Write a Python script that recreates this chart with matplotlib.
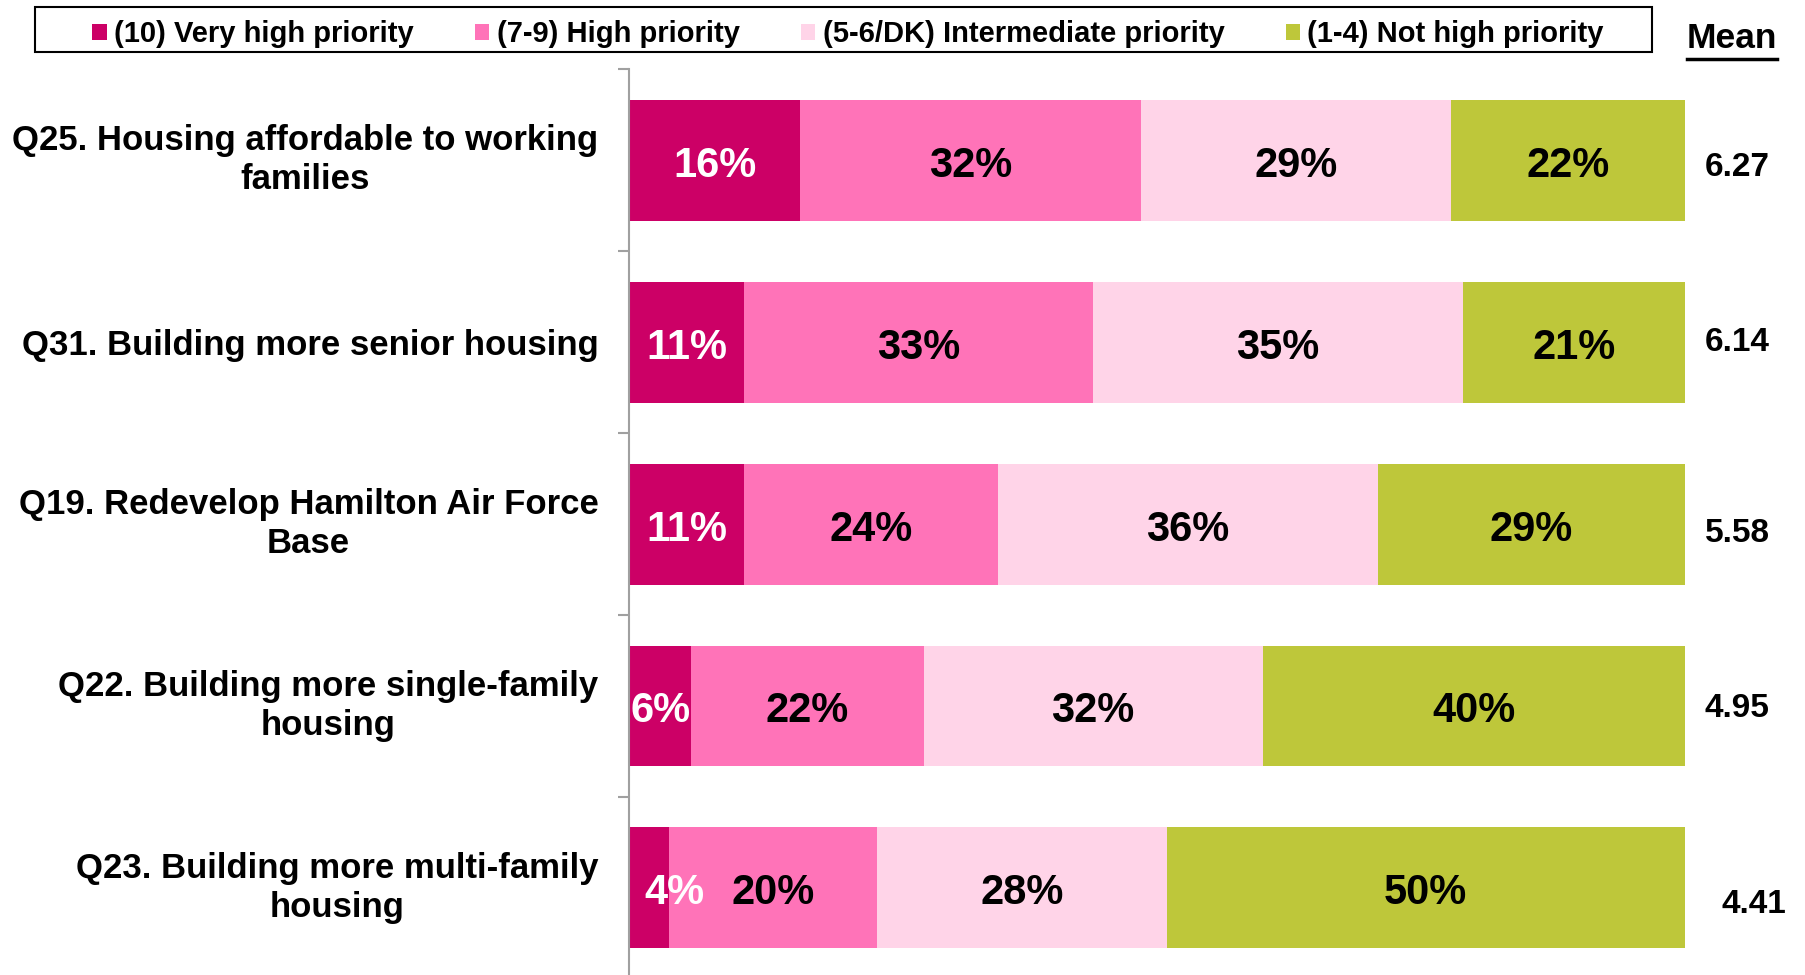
import matplotlib
matplotlib.use('Agg')
import matplotlib.pyplot as plt
from matplotlib.lines import Line2D
from matplotlib.patches import Rectangle

plt.rcParams['font.family'] = ['Liberation Sans', 'DejaVu Sans']
plt.rcParams['font.weight'] = 'bold'

# data
questions = [
    'Q25. Housing affordable to working\nfamilies',
    'Q31. Building more senior housing',
    'Q19. Redevelop Hamilton Air Force\nBase',
    'Q22. Building more single-family\nhousing',
    'Q23. Building more multi-family\nhousing',
]
series_names = ['(10) Very high priority', '(7-9) High priority',
                '(5-6/DK) Intermediate priority', '(1-4) Not high priority']
very_high = [16.2, 10.9, 10.9, 5.9, 3.8]
high = [32.3, 33.0, 24.0, 22.0, 19.7]
intermediate = [29.3, 35.1, 36.0, 32.1, 27.4]
not_high = [22.2, 21.0, 29.1, 40.0, 49.1]
# percentages as printed on the bars
very_high_lbl = [16, 11, 11, 6, 4]
high_lbl = [32, 33, 24, 22, 20]
intermediate_lbl = [29, 35, 36, 32, 28]
not_high_lbl = [22, 21, 29, 40, 50]
means = [6.27, 6.14, 5.58, 4.95, 4.41]

colors = ['#CC0066', '#FF73B8', '#FFD4E8', '#BEC73A']
text_colors = ['white', 'black', 'black', 'black']

fig = plt.figure(figsize=(18.06, 9.75), dpi=100)
ax = fig.add_axes([0.3483, -0.004, 0.5847, 0.933])

ypos = list(range(len(questions)))
series = [very_high, high, intermediate, not_high]
labels = [very_high_lbl, high_lbl, intermediate_lbl, not_high_lbl]
left = [0.0] * len(questions)
for vals, lbls, name, c, tc in zip(series, labels, series_names, colors, text_colors):
    ax.barh(ypos, vals, left=left, height=0.665, color=c, label=name)
    for i, (v, l) in enumerate(zip(vals, lbls)):
        if v < 5:
            ax.text(left[i] + 1.5, i + 0.03, f'{l}%', ha='left', va='center',
                    fontsize=30, color=tc)
        else:
            ax.text(left[i] + v / 2, i + 0.03, f'{l}%', ha='center', va='center',
                    fontsize=30, color=tc)
    left = [a + b for a, b in zip(left, vals)]

ax.set_xlim(0, 100)
ax.set_ylim(4.5, -0.5)
ax.set_xticks([])
ax.set_yticks(ypos)
ax.set_yticklabels(questions, fontsize=25)
for t in ax.get_yticklabels():
    t.set_multialignment('center')
    t.set_linespacing(1.25)
    if '\n' in t.get_text():
        t.set_verticalalignment('center')
ax.tick_params(axis='y', which='major', length=0, pad=22)
ax.set_yticks([k - 0.5 for k in range(6)], minor=True)
ax.tick_params(axis='y', which='minor', length=8, width=1.5, color='#A0A0A0')
for s in ['top', 'right', 'bottom']:
    ax.spines[s].set_visible(False)
ax.spines['left'].set_color('#A0A0A0')
ax.spines['left'].set_linewidth(1.5)

# mean column
mean_dx = [14, 14, 14, 14, 26]
mean_dy = [-5, 0, -7, -2, -12]
for i, m in enumerate(means):
    ax.annotate(f'{m:.2f}', xy=(1, i), xycoords=('axes fraction', 'data'),
                xytext=(mean_dx[i], mean_dy[i]), textcoords='offset points',
                ha='left', va='center', fontsize=24)

mt = fig.text(1732 / 1806, 1 - 39 / 975, 'Mean', ha='center', va='center',
              fontsize=25.5)

# legend box drawn separately, entries spread inside it
fig.add_artist(Rectangle((35 / 1806, 1 - 52 / 975), 1617 / 1806, 45 / 975,
                         transform=fig.transFigure, fill=False,
                         edgecolor='black', lw=1.5))
leg = fig.legend(loc='center left', ncol=4, mode='expand',
                 bbox_to_anchor=(92 / 1806, 1 - 57 / 975, 1512 / 1806, 45 / 975),
                 fontsize=21, handlelength=0.5, handleheight=0.5,
                 handletextpad=0.25, borderpad=0, borderaxespad=0,
                 frameon=False)

fig.canvas.draw()
bb = mt.get_window_extent().transformed(fig.transFigure.inverted())
fig.add_artist(Line2D([bb.x0, bb.x1], [bb.y0 - 0.004, bb.y0 - 0.004],
                      transform=fig.transFigure, color='black', lw=2.5))

fig.savefig('out.png', dpi=100)
